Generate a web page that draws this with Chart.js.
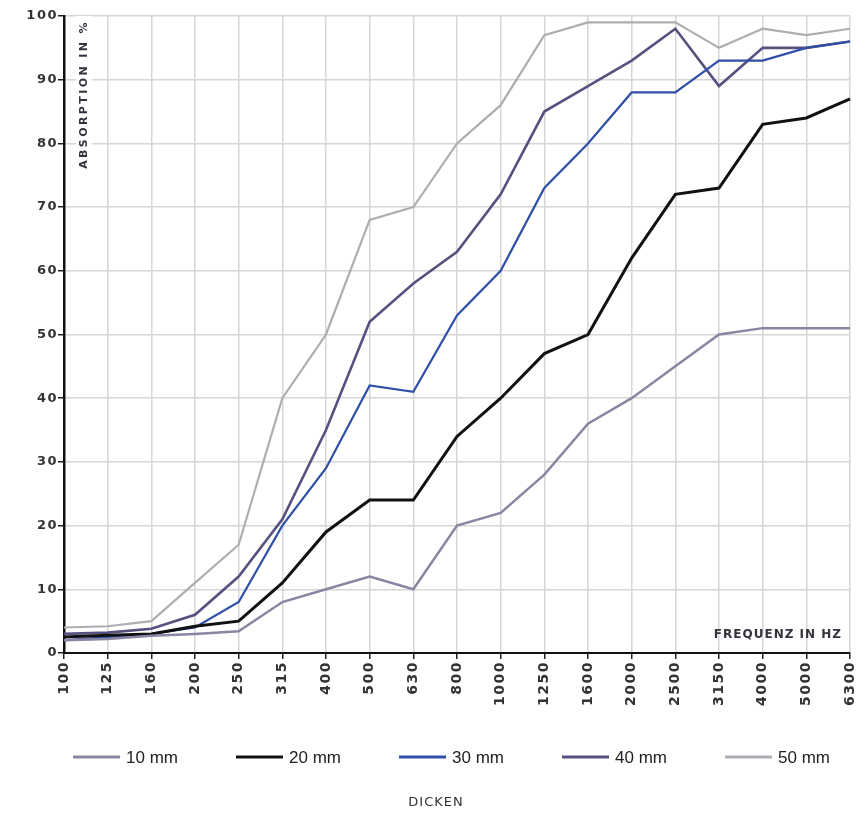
<!DOCTYPE html>
<html>
<head>
<meta charset="utf-8">
<script src="https://cdn.jsdelivr.net/npm/chart.js@4/dist/chart.umd.min.js"></script>
<style>
  html, body { margin: 0; padding: 0; background: #fff; }
  #wrap { width: 862px; height: 814px; }
</style>
</head>
<body>
<div id="wrap"><canvas id="absorptionChart"></canvas></div>
<script>
// frequencies (Hz)
const frequencies = ['100', '125', '160', '200', '250', '315', '400', '500', '630', '800',
                     '1000', '1250', '1600', '2000', '2500', '3150', '4000', '5000', '6300'];

// absorption in % per thickness
const mm10 = [2, 2.2, 2.7, 3, 3.4, 8, 10, 12, 10, 20, 22, 28, 36, 40, 45, 50, 51, 51, 51];
const mm20 = [2.5, 2.8, 3, 4.2, 5, 11, 19, 24, 24, 34, 40, 47, 50, 62, 72, 73, 83, 84, 87];
const mm30 = [2, 2.5, 3, 4, 8, 20, 29, 42, 41, 53, 60, 73, 80, 88, 88, 93, 93, 95, 96];
const mm40 = [3, 3.2, 3.8, 6, 12, 21, 35, 52, 58, 63, 72, 85, 89, 93, 98, 89, 95, 95, 96];
const mm50 = [4, 4.2, 5, 11, 17, 40, 50, 68, 70, 80, 86, 97, 99, 99, 99, 95, 98, 97, 98];

const yTicks = [0, 10, 20, 30, 40, 50, 60, 70, 80, 90, 100];

function series(label, data, color, width) {
    return {
        label: label,
        data: data,
        borderColor: color,
        backgroundColor: color,
        borderWidth: width,
        pointRadius: 0,
        tension: 0,
        fill: false
    };
}

// spaced lettering for the tick labels, like the original print
const spacedTicks = {
    id: 'spacedTicks',
    beforeDraw(chart) { chart.ctx.letterSpacing = '1.5px'; },
    afterDraw(chart) { chart.ctx.letterSpacing = '0px'; }
};

// texts inside the plot, the legend row and the caption under it
const plotTexts = {
    id: 'plotTexts',
    beforeDatasetsDraw(chart) {
        const { ctx, chartArea } = chart;
        ctx.save();
        ctx.fillStyle = '#33333d';

        // vertical y title inside the plot
        ctx.save();
        ctx.translate(chartArea.left + 20, chartArea.top + 4);
        ctx.rotate(-Math.PI / 2);
        ctx.font = 'bold 11px "DejaVu Sans"';
        ctx.letterSpacing = '2.4px';
        const w = ctx.measureText('ABSORPTION IN %').width;
        ctx.fillStyle = '#fff';
        ctx.fillRect(-w - 4, -8, w + 8, 16);
        ctx.fillStyle = '#33333d';
        ctx.textAlign = 'right';
        ctx.textBaseline = 'middle';
        ctx.fillText('ABSORPTION IN %', 0, 0);
        ctx.restore();

        // x title inside the plot, bottom right
        ctx.font = 'bold 12px "DejaVu Sans"';
        ctx.letterSpacing = '1px';
        ctx.textAlign = 'right';
        ctx.textBaseline = 'middle';
        ctx.fillText('FREQUENZ IN HZ', chartArea.right - 8, chartArea.bottom - 18);
        ctx.restore();
    },
    afterDraw(chart) {
        const { ctx, chartArea } = chart;
        ctx.save();
        ctx.letterSpacing = '0px';

        // legend: line sample + label for every dataset
        const legendY = chartArea.bottom + 104;
        const startX = chartArea.left + 9;
        const step = 163;
        ctx.font = '17px "Liberation Sans"';
        ctx.textAlign = 'left';
        ctx.textBaseline = 'middle';
        chart.data.datasets.forEach((ds, i) => {
            const x = startX + i * step;
            ctx.fillStyle = ds.borderColor;
            ctx.fillRect(x, legendY - 1.5, 47, 3);
            ctx.fillStyle = '#222';
            ctx.fillText(ds.label, x + 53, legendY + 1);
        });

        ctx.font = '13px "DejaVu Sans"';
        ctx.letterSpacing = '1px';
        ctx.fillStyle = '#333';
        ctx.textAlign = 'center';
        ctx.fillText('DICKEN', chart.width / 2 + 5, chart.height - 11);
        ctx.restore();
    }
};

const ctx = document.getElementById('absorptionChart').getContext('2d');
new Chart(ctx, {
    type: 'line',
    data: {
        labels: frequencies,
        datasets: [
            series('10 mm', mm10, '#8a85a2', 2.5),
            series('20 mm', mm20, '#111111', 3),
            series('30 mm', mm30, '#2f4fa8', 2.2),
            series('40 mm', mm40, '#55527f', 2.6),
            series('50 mm', mm50, '#b0acb3', 2.2)
        ]
    },
    options: {
        responsive: true,
        maintainAspectRatio: false,
        animation: false,
        layout: { padding: { left: 0, right: 12, top: 16, bottom: 101 } },
        plugins: {
            legend: { display: false },
            title: { display: false },
            tooltip: { enabled: false }
        },
        scales: {
            x: {
                offset: false,
                grid: { color: '#d6d6d6', lineWidth: 1.5, tickColor: '#222', tickLength: 6 },
                border: { color: '#111', width: 2 },
                ticks: {
                    autoSkip: false,
                    minRotation: 90,
                    maxRotation: 90,
                    padding: 2,
                    color: '#333',
                    font: { family: "'DejaVu Sans'", size: 14, weight: 'bold' }
                },
                afterFit(scale) {
                    scale.height = 60;
                    scale.paddingLeft = 0;
                    scale.paddingRight = 0;
                }
            },
            y: {
                min: 0,
                max: 100,
                afterBuildTicks(scale) { scale.ticks = yTicks.map(v => ({ value: v })); },
                grid: { color: '#d6d6d6', lineWidth: 1.5, tickColor: '#222', tickLength: 6 },
                border: { color: '#111', width: 2.5 },
                ticks: {
                    padding: 0,
                    color: '#333',
                    font: { family: "'DejaVu Sans'", size: 13, weight: 'bold' }
                },
                afterFit(scale) { scale.width = 64; }
            }
        }
    },
    plugins: [spacedTicks, plotTexts]
});
</script>
</body>
</html>
